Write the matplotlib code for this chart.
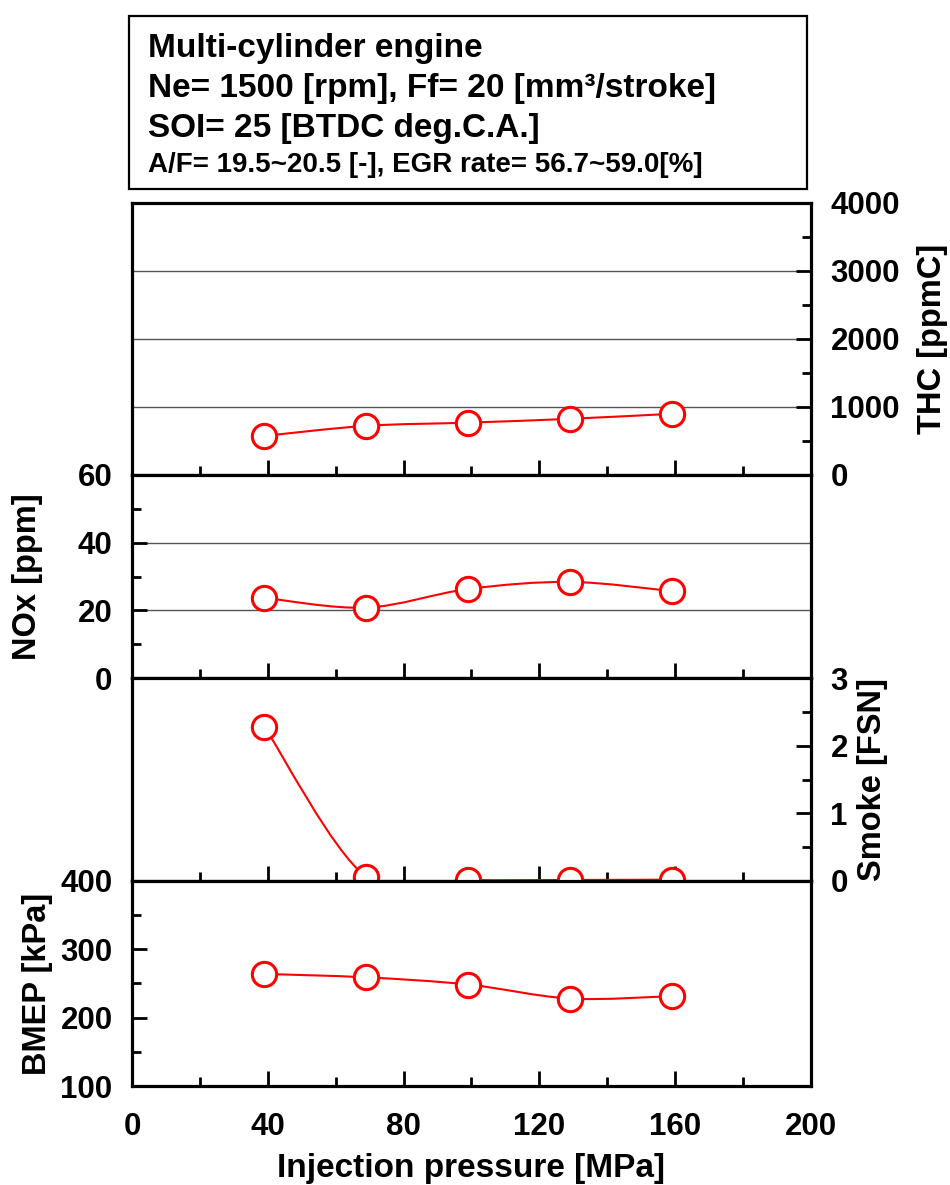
import matplotlib
matplotlib.use('Agg')
import matplotlib.pyplot as plt
from matplotlib.path import Path
from matplotlib.patches import PathPatch, Rectangle
from matplotlib.ticker import MultipleLocator

plt.rcParams['font.family'] = ['Liberation Sans', 'DejaVu Sans']
plt.rcParams['font.weight'] = 'bold'

# data
pressure = [39, 69, 99, 129, 159]
thc = [575, 723, 770, 826, 900]
nox = [23.7, 20.8, 26.3, 28.4, 25.7]
smoke = [2.28, 0.06, 0.015, 0.015, 0.02]
bmep = [264, 259, 248.5, 228, 231.5]

info_lines = ['Multi-cylinder engine',
              'Ne= 1500 [rpm], Ff= 20 [mm\u00b3/stroke]',
              'SOI= 25 [BTDC deg.C.A.]',
              'A/F= 19.5~20.5 [-], EGR rate= 56.7~59.0[%]']

W, H = 950, 1185
fig = plt.figure(figsize=(W / 100, H / 100), dpi=100)


def smooth_path(xs, ys):
    # catmull-rom segments drawn as cubic bezier pieces
    pts = list(zip(xs, ys))
    ext = [pts[0]] + pts + [pts[-1]]
    verts = [pts[0]]
    codes = [Path.MOVETO]
    for i in range(1, len(ext) - 2):
        p0, p1, p2, p3 = ext[i - 1], ext[i], ext[i + 1], ext[i + 2]
        c1 = (p1[0] + (p2[0] - p0[0]) / 6, p1[1] + (p2[1] - p0[1]) / 6)
        c2 = (p2[0] - (p3[0] - p1[0]) / 6, p2[1] - (p3[1] - p1[1]) / 6)
        verts += [c1, c2, p2]
        codes += [Path.CURVE4] * 3
    return Path(verts, codes)


x0, x1 = 132, 811
edges = [203, 475, 678, 881, 1086]
panels = [
    # values, ylim, major, minor, side, label, grid lines, label centre x (px)
    (thc, (0, 4000), 1000, 500, 'right', 'THC [ppmC]', [1000, 2000, 3000], 933),
    (nox, (0, 60), 20, 10, 'left', 'NOx [ppm]', [20, 40], 27),
    (smoke, (0, 3), 1, 0.5, 'right', 'Smoke [FSN]', [], 873),
    (bmep, (100, 400), 100, 50, 'left', 'BMEP [kPa]', [], 37),
]

axes = []
for k, (vals, ylim, maj, mnr, side, label, grid, lx) in enumerate(panels):
    top, bot = edges[k], edges[k + 1]
    ax = fig.add_axes([x0 / W, 1 - bot / H, (x1 - x0) / W, (bot - top) / H])
    ax.set_xlim(0, 200)
    ax.set_ylim(*ylim)
    for g in grid:
        ax.axhline(g, color='#555555', lw=1.0, zorder=1)
    ax.add_patch(PathPatch(smooth_path(pressure, vals), fc='none', ec='red',
                           lw=1.5, zorder=2, transform=ax.transData))
    ax.plot(pressure, vals, 'o', ms=17.5, mfc='white', mec='red', mew=2.2,
            zorder=3, clip_on=False)
    for s in ax.spines.values():
        s.set_linewidth(2.3)
    ax.xaxis.set_major_locator(MultipleLocator(40))
    ax.xaxis.set_minor_locator(MultipleLocator(20))
    ax.yaxis.set_major_locator(MultipleLocator(maj))
    ax.yaxis.set_minor_locator(MultipleLocator(mnr))
    ax.tick_params(which='both', direction='in', width=2, top=False,
                   left=(side == 'left'), right=(side == 'right'),
                   labelleft=(side == 'left'), labelright=(side == 'right'),
                   labelbottom=(k == 3), labelsize=22.5)
    ax.tick_params(axis='y', which='both', pad=14)
    ax.tick_params(axis='x', which='both', pad=19)
    ax.tick_params(which='major', length=11)
    ax.tick_params(which='minor', length=6.5)
    if side == 'right':
        ax.yaxis.set_label_position('right')
    ax.set_ylabel(label, fontsize=23.5, fontweight='bold', va='center')
    ax.yaxis.set_label_coords((lx - x0) / (x1 - x0), 0.5)
    axes.append(ax)

axes[-1].set_xlabel('Injection pressure [MPa]', fontsize=24, fontweight='bold',
                    labelpad=8)

# condition box
fig.add_artist(Rectangle((129 / W, 1 - 189 / H), (807 - 129) / W, (189 - 16) / H,
                         transform=fig.transFigure, fill=False, lw=1.6,
                         ec='black'))
baselines = [57, 97, 137, 172]
sizes = [24, 24, 24, 20]
for line, yb, fs in zip(info_lines, baselines, sizes):
    fig.text(148 / W, 1 - yb / H, line, fontsize=fs, fontweight='bold',
             va='baseline', ha='left')

fig.savefig('out.png', dpi=100)
